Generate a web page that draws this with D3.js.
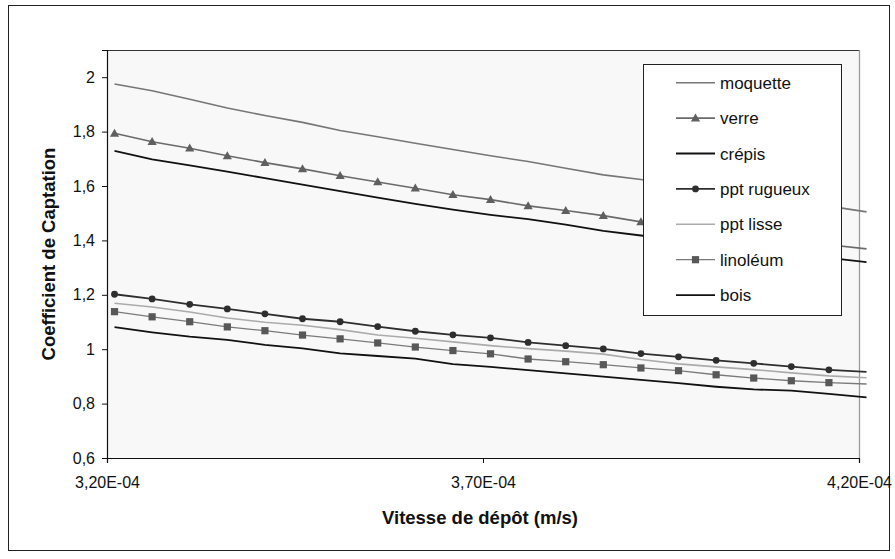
<!DOCTYPE html>
<html>
<head>
<meta charset="utf-8">
<script src="https://cdn.jsdelivr.net/npm/d3@7"></script>
<style>
  html, body { margin: 0; padding: 0; background: #fff; }
  svg { display: block; font-family: "Liberation Sans", Arial, sans-serif; }
</style>
</head>
<body>
<svg id="chart" width="895" height="559"></svg>
<script>
// Deposition velocity (m/s) for each computed point
const vitesses = [
  3.21e-4, 3.26e-4, 3.31e-4, 3.36e-4, 3.41e-4, 3.46e-4, 3.51e-4,
  3.56e-4, 3.61e-4, 3.66e-4, 3.71e-4, 3.76e-4, 3.81e-4, 3.86e-4,
  3.91e-4, 3.96e-4, 4.01e-4, 4.06e-4, 4.11e-4, 4.16e-4, 4.21e-4
];

// Capture coefficient per surface material
const moquette = [1.975, 1.950, 1.919, 1.887, 1.859, 1.834, 1.804, 1.781, 1.757, 1.734, 1.711,
                  1.690, 1.665, 1.641, 1.624, 1.604, 1.586, 1.566, 1.546, 1.526, 1.505];
const verre    = [1.794, 1.763, 1.739, 1.711, 1.686, 1.663, 1.638, 1.615, 1.592, 1.568, 1.550,
                  1.527, 1.510, 1.491, 1.468, 1.451, 1.436, 1.418, 1.401, 1.384, 1.369];
const crepis   = [1.729, 1.698, 1.676, 1.653, 1.629, 1.605, 1.581, 1.557, 1.534, 1.513, 1.494,
                  1.478, 1.458, 1.435, 1.418, 1.402, 1.383, 1.369, 1.351, 1.336, 1.320];
const pptRugueux = [1.202, 1.185, 1.165, 1.148, 1.130, 1.112, 1.101, 1.083, 1.066, 1.053, 1.042,
                    1.025, 1.013, 1.001, 0.984, 0.972, 0.959, 0.948, 0.936, 0.924, 0.917];
const pptLisse = [1.169, 1.155, 1.137, 1.115, 1.099, 1.088, 1.072, 1.052, 1.040, 1.027, 1.013,
                  1.002, 0.993, 0.982, 0.962, 0.946, 0.935, 0.925, 0.913, 0.902, 0.895];
const linoleum = [1.138, 1.119, 1.101, 1.082, 1.068, 1.052, 1.038, 1.023, 1.008, 0.995, 0.983,
                  0.964, 0.954, 0.943, 0.931, 0.921, 0.906, 0.894, 0.884, 0.877, 0.872];
const bois     = [1.081, 1.062, 1.046, 1.034, 1.016, 1.003, 0.985, 0.975, 0.965, 0.945, 0.935,
                  0.923, 0.911, 0.899, 0.887, 0.875, 0.862, 0.852, 0.848, 0.836, 0.823];

const seriesNames = ["moquette", "verre", "crépis", "ppt rugueux", "ppt lisse", "linoléum", "bois"];
const xTickValues = [3.2e-4, 3.7e-4, 4.2e-4];
const yTickValues = [0.6, 0.8, 1.0, 1.2, 1.4, 1.6, 1.8, 2.0];

const series = [
  { name: seriesNames[0], values: moquette,   color: "#767676", width: 1.6, marker: null },
  { name: seriesNames[1], values: verre,      color: "#6a6a6a", width: 1.6, marker: "triangle", mColor: "#5f5f5f" },
  { name: seriesNames[2], values: crepis,     color: "#111111", width: 1.8, marker: null },
  { name: seriesNames[3], values: pptRugueux, color: "#2e2e2e", width: 1.8, marker: "circle", mColor: "#2e2e2e" },
  { name: seriesNames[4], values: pptLisse,   color: "#ababab", width: 1.6, marker: null },
  { name: seriesNames[5], values: linoleum,   color: "#7a7a7a", width: 1.3, marker: "square", mColor: "#585858" },
  { name: seriesNames[6], values: bois,       color: "#111111", width: 1.8, marker: null }
];

const svg = d3.select("#chart");
const plot = { left: 107, top: 50, right: 859, bottom: 458 };

const x = d3.scaleLinear().domain([3.2e-4, 4.2e-4]).range([plot.left, plot.right]);
const y = d3.scaleLinear().domain([0.6, 2.1]).range([plot.bottom, plot.top]);

const frFormat = v => {
  const s = d3.format(".2e")(v);            // e.g. 3.20e-4
  const [m, e] = s.split("e");
  const exp = parseInt(e, 10);
  const es = (exp < 0 ? "-" : "+") + String(Math.abs(exp)).padStart(2, "0");
  return m.replace(".", ",") + "E" + es;
};
const yFormat = v => {
  const r = Math.round(v * 10) / 10;
  return Number.isInteger(r) ? String(r) : String(r).replace(".", ",");
};

// outer chart frame
svg.append("rect")
  .attr("x", 8.5).attr("y", 5.5).attr("width", 881).attr("height", 545)
  .attr("fill", "#fff").attr("stroke", "#222").attr("stroke-width", 1);

// plot area
svg.append("rect")
  .attr("x", plot.left).attr("y", plot.top)
  .attr("width", plot.right - plot.left).attr("height", plot.bottom - plot.top)
  .attr("fill", "#f8f8f8");
svg.append("line")
  .attr("x1", plot.left).attr("x2", plot.right).attr("y1", plot.top + 0.5).attr("y2", plot.top + 0.5)
  .attr("stroke", "#333").attr("stroke-width", 1);
svg.append("line")
  .attr("x1", plot.right + 0.5).attr("x2", plot.right + 0.5).attr("y1", plot.top).attr("y2", plot.bottom)
  .attr("stroke", "#9a9a9a").attr("stroke-width", 1.3);

// axes
const yAxis = d3.axisLeft(y).tickValues(yTickValues).tickFormat(yFormat).tickSize(5).tickPadding(7);
const gy = svg.append("g").attr("transform", `translate(${plot.left},0)`).call(yAxis);
gy.select(".domain").attr("stroke", "#111").attr("stroke-width", 1.2);
gy.selectAll(".tick line").attr("stroke", "#111");
gy.selectAll("text").attr("font-size", 16).attr("fill", "#111")
  .attr("font-family", "Liberation Sans, Arial, sans-serif");

const xAxis = d3.axisBottom(x).tickValues(xTickValues).tickFormat(frFormat).tickSize(5).tickPadding(14);
const gx = svg.append("g").attr("transform", `translate(0,${plot.bottom})`).call(xAxis);
gx.select(".domain").attr("stroke", "#111").attr("stroke-width", 1.2);
gx.selectAll(".tick line").attr("stroke", "#111");
gx.selectAll("text").attr("font-size", 16).attr("fill", "#111")
  .attr("font-family", "Liberation Sans, Arial, sans-serif");

// axis titles
svg.append("text")
  .attr("transform", `translate(55,254) rotate(-90)`)
  .attr("text-anchor", "middle")
  .attr("font-size", 18.5).attr("font-weight", "bold").attr("fill", "#111")
  .text("Coefficient de Captation");
svg.append("text")
  .attr("x", 480).attr("y", 524)
  .attr("text-anchor", "middle")
  .attr("font-size", 18.5).attr("font-weight", "bold").attr("fill", "#111")
  .text("Vitesse de dépôt (m/s)");

// marker drawing helper
function drawMarker(g, type, cx, cy, color) {
  if (type === "triangle") {
    g.append("path")
      .attr("d", `M${cx},${cy - 4.6}L${cx + 4.6},${cy + 3.4}L${cx - 4.6},${cy + 3.4}Z`)
      .attr("fill", color);
  } else if (type === "circle") {
    g.append("circle").attr("cx", cx).attr("cy", cy).attr("r", 3.4).attr("fill", color);
  } else if (type === "square") {
    g.append("rect").attr("x", cx - 3.6).attr("y", cy - 3.6)
      .attr("width", 7.2).attr("height", 7.2).attr("fill", color);
  }
}

const line = d3.line().x((d, i) => x(vitesses[i])).y(d => y(d));
const marks = svg.append("g");
series.forEach(s => {
  marks.append("path")
    .datum(s.values)
    .attr("d", line)
    .attr("fill", "none")
    .attr("stroke", s.color)
    .attr("stroke-width", s.width)
    .attr("stroke-linejoin", "round");
});
series.forEach(s => {
  if (!s.marker) return;
  const g = marks.append("g");
  s.values.forEach((v, i) => {
    if (vitesses[i] > x.domain()[1]) return;
    drawMarker(g, s.marker, x(vitesses[i]), y(v), s.mColor);
  });
});

// legend
const lg = svg.append("g");
lg.append("rect")
  .attr("x", 643.5).attr("y", 64.5).attr("width", 198).attr("height", 251)
  .attr("fill", "#fff").attr("stroke", "#222").attr("stroke-width", 1);
series.forEach((s, i) => {
  const cy = 82.7 + i * 35.4;
  lg.append("line")
    .attr("x1", 676).attr("x2", 715).attr("y1", cy).attr("y2", cy)
    .attr("stroke", s.color).attr("stroke-width", s.width);
  if (s.marker) drawMarker(lg, s.marker, 695.5, cy, s.mColor);
  lg.append("text")
    .attr("x", 720).attr("y", cy).attr("dy", "0.36em")
    .attr("font-size", 17).attr("fill", "#111")
    .text(s.name);
});
</script>
</body>
</html>
